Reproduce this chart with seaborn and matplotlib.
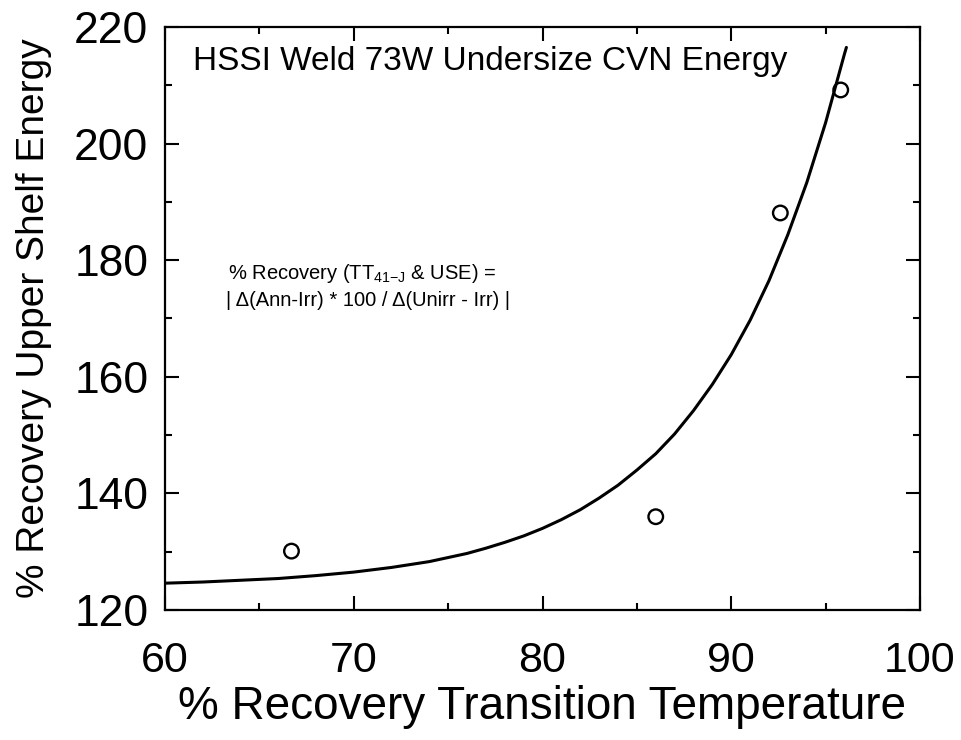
import matplotlib
matplotlib.use("Agg")
import matplotlib.pyplot as plt
from matplotlib.ticker import MultipleLocator
import seaborn as sns
import pandas as pd

# measured data points
tt_recovery = [66.7, 86.0, 92.6, 95.8]
use_recovery = [130.1, 136.0, 188.1, 209.2]

# fitted curve
curve_x = [60, 62, 64, 66, 68, 70, 72, 74, 76, 77, 78, 79, 80, 81, 82, 83, 84,
           85, 86, 87, 88, 89, 90, 91, 92, 93, 94, 95, 96, 96.1]
curve_y = [124.6, 124.8, 125.1, 125.4, 125.9, 126.5, 127.3, 128.3, 129.7, 130.6,
           131.6, 132.7, 134.0, 135.5, 137.2, 139.2, 141.4, 144.0, 146.8, 150.2,
           154.2, 158.7, 163.8, 169.7, 176.5, 184.4, 193.3, 203.6, 215.4, 216.5]

x_ticks = [60, 70, 80, 90, 100]
y_ticks = [120, 140, 160, 180, 200, 220]

sns.set_theme(style="ticks")
plt.rcParams['font.family'] = ['Liberation Sans', 'DejaVu Sans']
plt.rcParams['mathtext.fontset'] = 'custom'
plt.rcParams['mathtext.rm'] = 'Liberation Sans'
plt.rcParams['mathtext.it'] = 'Liberation Sans'
for k in ['text.color', 'axes.labelcolor', 'xtick.color', 'ytick.color', 'axes.edgecolor']:
    plt.rcParams[k] = 'black'

fig = plt.figure(figsize=(9.62, 7.40), dpi=100)
ax = fig.add_axes([165/962, 1 - 610/740, (920 - 165)/962, (610 - 27)/740])

pts = pd.DataFrame({"tt": tt_recovery, "use": use_recovery})
crv = pd.DataFrame({"x": curve_x, "y": curve_y})

sns.lineplot(data=crv, x="x", y="y", ax=ax, color="black", linewidth=2.2, sort=False)
sns.scatterplot(data=pts, x="tt", y="use", ax=ax, s=110, facecolors="none",
                edgecolor="black", linewidth=1.7, marker="o", zorder=3)

ax.set_xlim(60, 100)
ax.set_ylim(120, 220)
ax.set_xticks(x_ticks)
ax.set_yticks(y_ticks)
ax.xaxis.set_minor_locator(MultipleLocator(5))
ax.yaxis.set_minor_locator(MultipleLocator(10))
ax.tick_params(which="both", direction="in", top=True, right=True, color="black", width=1.5)
ax.tick_params(which="major", length=10)
ax.tick_params(which="minor", length=5)
ax.tick_params(axis="x", which="major", labelsize=31, pad=22, labelcolor="black")
ax.tick_params(axis="y", which="major", labelsize=32, pad=12, labelcolor="black")
for s in ax.spines.values():
    s.set_linewidth(1.6)
    s.set_color("black")

ax.set_xlabel("% Recovery Transition Temperature", fontsize=33, labelpad=3, color="black")
ax.set_ylabel("% Recovery Upper Shelf Energy", fontsize=28, labelpad=16, color="black")

ax.text(0.037, 0.94, "HSSI Weld 73W Undersize CVN Energy", transform=ax.transAxes,
        fontsize=24, ha="left", va="center", color="black")
ax.text(0.083, 0.578, r"% Recovery (TT$_{41\mathrm{-J}}$ & USE) =", transform=ax.transAxes,
        fontsize=14.5, ha="left", va="center", color="black")
ax.text(0.081, 0.531, "| \u0394(Ann-Irr) * 100 / \u0394(Unirr - Irr) |", transform=ax.transAxes,
        fontsize=14.5, ha="left", va="center", color="black")

fig.savefig("out.png", dpi=100, facecolor="white")
